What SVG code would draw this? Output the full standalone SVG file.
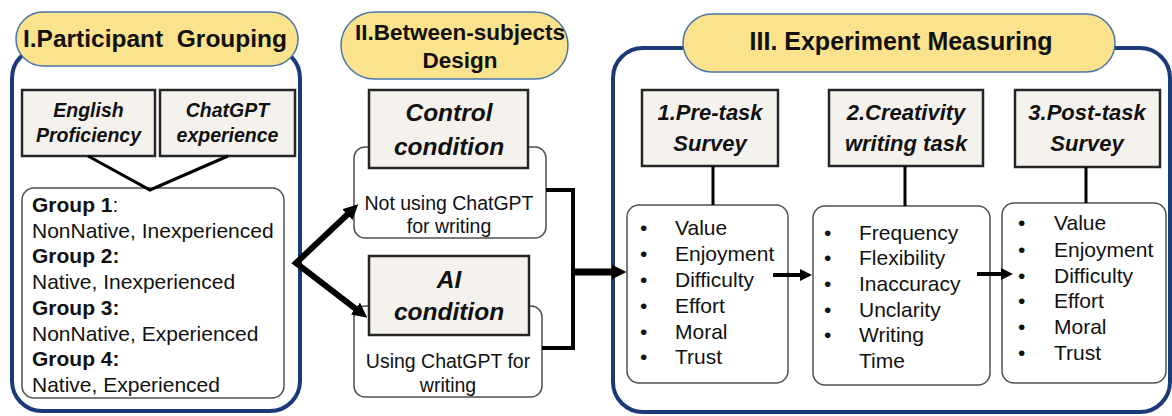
<svg xmlns="http://www.w3.org/2000/svg" width="1172" height="416" viewBox="0 0 1172 416">
<style>
.pill{fill:#FBE28C;stroke:#4A74A8;stroke-width:1.5}
.panel{fill:none;stroke:#1B3A78;stroke-width:4}
.box{fill:#F5F2ED;stroke:#262626;stroke-width:2.5}
.rbox{fill:#fff;stroke:#505050;stroke-width:1.5}
text{font-family:"Liberation Sans",Arial,sans-serif;fill:#111}
.title{font-weight:bold;text-anchor:middle}
.lbl{font-weight:bold;font-style:italic;text-anchor:middle}
.grp{font-size:21px}
.b{font-weight:bold}
.li{font-size:21px}
.mid{text-anchor:middle;font-size:19.5px}
.conn{fill:none;stroke:#000}
</style>
<defs>
<marker id="arrB" markerUnits="userSpaceOnUse" viewBox="0 0 10 10" refX="3" refY="5" markerWidth="15" markerHeight="15" orient="auto-start-reverse"><path d="M0,0 L10,5 L0,10 z" fill="#000"/></marker>
<marker id="arrS" markerUnits="userSpaceOnUse" viewBox="0 0 10 10" refX="3" refY="5" markerWidth="12" markerHeight="12" orient="auto"><path d="M0,0 L10,5 L0,10 z" fill="#000"/></marker>
</defs>

<g id="panel1">
<rect class="panel" x="12" y="48" width="288" height="363" rx="30"/>
<rect class="pill" x="16" y="12" width="282" height="54" rx="27"/>
<text class="title" x="155" y="47" font-size="24.5" xml:space="preserve">I.Participant  Grouping</text>
</g>
<g id="english">
<rect class="box" x="22" y="90" width="133" height="66"/>
<text class="lbl" x="88.5" y="117" font-size="19.5">English</text>
<text class="lbl" x="88.5" y="142" font-size="19.5">Proficiency</text>
</g>
<g id="chatgpt">
<rect class="box" x="160" y="90" width="135" height="66"/>
<text class="lbl" x="227.5" y="117" font-size="19.5">ChatGPT</text>
<text class="lbl" x="227.5" y="142" font-size="19.5">experience</text>
</g>
<g id="groups">
<rect class="rbox" x="22" y="188" width="262" height="210" rx="12"/>
<text class="grp" x="32" y="212"><tspan class="b">Group 1</tspan>:</text>
<text class="grp" x="32" y="238">NonNative, Inexperienced</text>
<text class="grp b" x="32" y="263">Group 2:</text>
<text class="grp" x="32" y="289">Native, Inexperienced</text>
<text class="grp b" x="32" y="315">Group 3:</text>
<text class="grp" x="32" y="341">NonNative, Experienced</text>
<text class="grp b" x="32" y="366">Group 4:</text>
<text class="grp" x="32" y="392">Native, Experienced</text>
</g>

<g id="panel2">
<rect class="pill" x="341" y="12" width="227" height="67" rx="33.5"/>
<text class="title" x="460" y="40" font-size="22.5">II.Between-subjects</text>
<text class="title" x="460" y="68" font-size="22.5">Design</text>
</g>
<g id="control">
<rect class="rbox" x="354" y="147" width="192" height="91" rx="11"/>
<rect class="box" x="369" y="90" width="159" height="78"/>
<text class="lbl" x="449" y="121" font-size="24.5">Control</text>
<text class="lbl" x="449" y="155" font-size="24.5">condition</text>
<text class="mid" x="449" y="210">Not using ChatGPT</text>
<text class="mid" x="449" y="233">for writing</text>
</g>
<g id="ai">
<rect class="rbox" x="354" y="306" width="188" height="91" rx="11"/>
<rect class="box" x="369" y="256" width="160" height="79"/>
<text class="lbl" x="449" y="288" font-size="24.5">AI</text>
<text class="lbl" x="449" y="320" font-size="24.5">condition</text>
<text class="mid" x="448" y="368">Using ChatGPT for</text>
<text class="mid" x="448" y="392">writing</text>
</g>

<g id="panel3">
<rect class="panel" x="613" y="48" width="557" height="364" rx="30"/>
<rect class="pill" x="683" y="14" width="432" height="58" rx="29"/>
<text class="title" x="901" y="50" font-size="25">III. Experiment Measuring</text>
</g>
<g id="pretask">
<rect class="box" x="642" y="90" width="136" height="76"/>
<text class="lbl" x="710" y="120" font-size="22">1.Pre-task</text>
<text class="lbl" x="710" y="151" font-size="22">Survey</text>
</g>
<g id="creativity">
<rect class="box" x="829" y="90" width="154" height="76"/>
<text class="lbl" x="906" y="120" font-size="22">2.Creativity</text>
<text class="lbl" x="906" y="151" font-size="22">writing task</text>
</g>
<g id="posttask">
<rect class="box" x="1015" y="90" width="145" height="77"/>
<text class="lbl" x="1087" y="120" font-size="22">3.Post-task</text>
<text class="lbl" x="1087" y="151" font-size="22">Survey</text>
</g>
<g id="listA">
<rect class="rbox" x="627" y="205" width="161" height="178" rx="12"/>
<text class="li" x="640" y="235">•</text><text class="li" x="675" y="235">Value</text>
<text class="li" x="640" y="261">•</text><text class="li" x="675" y="261">Enjoyment</text>
<text class="li" x="640" y="287">•</text><text class="li" x="675" y="287">Difficulty</text>
<text class="li" x="640" y="313">•</text><text class="li" x="675" y="313">Effort</text>
<text class="li" x="640" y="339">•</text><text class="li" x="675" y="339">Moral</text>
<text class="li" x="640" y="364">•</text><text class="li" x="675" y="364">Trust</text>
</g>
<g id="listB">
<rect class="rbox" x="813" y="206" width="177" height="179" rx="12"/>
<text class="li" x="824" y="240">•</text><text class="li" x="859" y="240">Frequency</text>
<text class="li" x="824" y="265">•</text><text class="li" x="859" y="265">Flexibility</text>
<text class="li" x="824" y="291">•</text><text class="li" x="859" y="291">Inaccuracy</text>
<text class="li" x="824" y="317">•</text><text class="li" x="859" y="317">Unclarity</text>
<text class="li" x="824" y="342">•</text><text class="li" x="859" y="342">Writing</text>
<text class="li" x="859" y="368">Time</text>
</g>
<g id="listC">
<rect class="rbox" x="1002" y="203" width="164" height="180" rx="12"/>
<text class="li" x="1018" y="230">•</text><text class="li" x="1054" y="230">Value</text>
<text class="li" x="1018" y="257">•</text><text class="li" x="1054" y="257">Enjoyment</text>
<text class="li" x="1018" y="283">•</text><text class="li" x="1054" y="283">Difficulty</text>
<text class="li" x="1018" y="308">•</text><text class="li" x="1054" y="308">Effort</text>
<text class="li" x="1018" y="334">•</text><text class="li" x="1054" y="334">Moral</text>
<text class="li" x="1018" y="360">•</text><text class="li" x="1054" y="360">Trust</text>
</g>

<g id="connectors">
<polyline class="conn" stroke-width="3" points="88,156 150,190 228,156"/>
<path class="conn" stroke-width="6" stroke-linejoin="miter" d="M350.6,211.5 L296,263 L359,311.3" marker-start="url(#arrB)" marker-end="url(#arrB)"/>
<polyline class="conn" stroke-width="4" points="546,190 573,190 573,348 542,348"/>
<line class="conn" stroke-width="7" x1="573" y1="272" x2="616" y2="272" marker-end="url(#arrB)"/>
<line class="conn" stroke-width="3" x1="713" y1="166" x2="713" y2="205"/>
<line class="conn" stroke-width="3" x1="905" y1="166" x2="905" y2="206"/>
<line class="conn" stroke-width="3" x1="1086" y1="167" x2="1086" y2="203"/>
<line class="conn" stroke-width="4" x1="773" y1="275" x2="803.6" y2="275" marker-end="url(#arrS)"/>
<line class="conn" stroke-width="4" x1="977" y1="274" x2="1004.6" y2="274" marker-end="url(#arrS)"/>
</g>
</svg>
